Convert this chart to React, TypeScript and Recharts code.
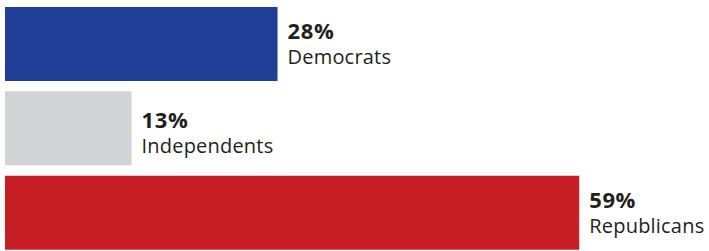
import React from "react";
import { BarChart, Bar, XAxis, YAxis, Cell } from "recharts";

const parties = ["Democrats", "Independents", "Republicans"];
const shares = [28, 13, 59];
const colors = ["#213F96", "#D1D3D4", "#C81E25"];

const data = parties.map((p, i) => ({ party: p, share: shares[i] }));

const FONT = "'Open Sans', 'Noto Sans', sans-serif";
const nudge = [0, 5, 0];

const renderLabel = (props: any) => {
  const { x, y, width, value, index } = props;
  const lx = Number(x) + Number(width) + 10;
  const top = Number(y) + (nudge[index] || 0);
  return (
    <g>
      <text x={lx} y={top + 32} fill="#231F20" fontFamily={FONT} fontWeight={700} fontSize={22} letterSpacing={0.6}>
        {`${value}%`}
      </text>
      <text x={lx} y={top + 57} fill="#231F20" fontFamily={FONT} fontWeight={400} fontSize={20} letterSpacing={0.2}>
        {parties[index]}
      </text>
    </g>
  );
};

export default function App() {
  return (
    <div style={{ position: "absolute", left: 0, top: 0, width: 709, height: 251, overflow: "hidden", background: "#fff" }}>
      <BarChart
        width={709}
        height={255}
        data={data}
        layout="vertical"
        margin={{ top: 2, right: 120, bottom: 0, left: 5 }}
      >
        <XAxis type="number" domain={[0, 60]} hide />
        <YAxis type="category" dataKey="party" hide />
        <Bar dataKey="share" barSize={74} isAnimationActive={false} label={renderLabel}>
          {data.map((d, i) => (
            <Cell key={d.party} fill={colors[i]} />
          ))}
        </Bar>
      </BarChart>
    </div>
  );
}
